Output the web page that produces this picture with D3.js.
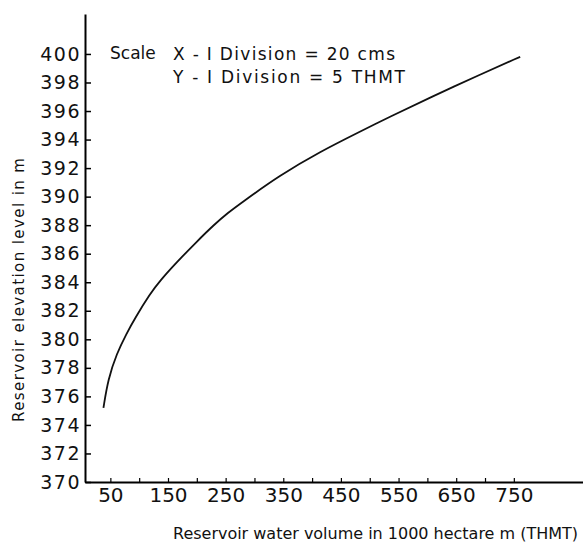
<!DOCTYPE html>
<html>
<head>
<meta charset="utf-8">
<script src="https://cdn.jsdelivr.net/npm/d3@7"></script>
<style>
  body { margin: 0; background: #fff; }
  text { font-family: "DejaVu Sans", sans-serif; fill: #111; }
</style>
</head>
<body>
<script>
// chart size
var w = 583;
var h = 544;

// curve
var volume = [38, 46, 61, 78, 93, 119, 136, 165, 200, 229, 255, 275, 344, 414, 483, 535, 605, 691, 761];
var elevation = [375.2, 377.2, 379.0, 380.4, 381.5, 383.2, 384.1, 385.4, 386.85, 388.0, 388.9, 389.5, 391.5, 393.15, 394.55, 395.6, 396.95, 398.55, 399.8];

// tick values
var xTicks = [50, 100, 150, 200, 250, 300, 350, 400, 450, 500, 550, 600, 650, 700, 750];
var xLabels = [50, 150, 250, 350, 450, 550, 650, 750];
var yTicks = [370, 372, 374, 376, 378, 380, 382, 384, 386, 388, 390, 392, 394, 396, 398, 400];

var scaleLines = ["X - I Division  =  20 cms", "Y - I Division  =  5 THMT"];

var svg = d3.select("body")
  .append("svg")
  .attr("width", w)
  .attr("height", h);

var x = d3.scaleLinear().domain([6, 870]).range([85, 583]);
var y = d3.scaleLinear().domain([370, 402.8]).range([482, 14]);

// x axis, ticks point up
var xAxis = d3.axisBottom(x)
  .tickValues(xTicks)
  .tickSizeInner(-4)
  .tickSizeOuter(0)
  .tickPadding(6)
  .tickFormat(function(d) { return xLabels.indexOf(d) >= 0 ? d : ""; });

var gx = svg.append("g")
  .attr("transform", "translate(0," + y(370) + ")")
  .call(xAxis);
gx.select(".domain").attr("stroke-width", 2);
gx.selectAll(".tick line").attr("stroke-width", 1.2);
gx.selectAll(".tick text")
  .style("font-size", "20px")
  .style("font-family", "DejaVu Sans");

// y axis, ticks point right
var yAxis = d3.axisLeft(y)
  .tickValues(yTicks)
  .tickSizeInner(-6)
  .tickSizeOuter(0)
  .tickPadding(4);

var gy = svg.append("g")
  .attr("transform", "translate(" + x(6) + ",0)")
  .call(yAxis);
gy.select(".domain").attr("stroke-width", 2);
gy.selectAll(".tick line").attr("stroke-width", 1.5);
gy.selectAll(".tick text")
  .style("font-size", "19px")
  .style("font-family", "DejaVu Sans")
  .style("letter-spacing", "1.5px");

// the curve
var line = d3.line()
  .x(function(d, i) { return x(volume[i]); })
  .y(function(d, i) { return y(elevation[i]); })
  .curve(d3.curveBasis);

svg.append("path")
  .datum(volume)
  .attr("d", line)
  .attr("fill", "none")
  .attr("stroke", "#111")
  .attr("stroke-width", 1.8);

// axis titles
svg.append("text")
  .attr("x", 173)
  .attr("y", 539)
  .attr("textLength", 405)
  .style("font-size", "16px")
  .text("Reservoir water volume in 1000 hectare m (THMT)");

svg.append("text")
  .attr("transform", "translate(24,422) rotate(-90)")
  .attr("textLength", 264)
  .style("font-size", "15px")
  .text("Reservoir elevation level in m");

// scale note
svg.append("text")
  .attr("x", 110)
  .attr("y", 59)
  .style("font-size", "17px")
  .text("Scale");

svg.selectAll(".scale")
  .data(scaleLines)
  .enter()
  .append("text")
  .attr("class", "scale")
  .attr("x", 173)
  .attr("y", function(d, i) { return 60 + i * 23; })
  .attr("textLength", function(d, i) { return i == 0 ? 222 : 232; })
  .style("font-size", "17px")
  .text(function(d) { return d; });
</script>
</body>
</html>
